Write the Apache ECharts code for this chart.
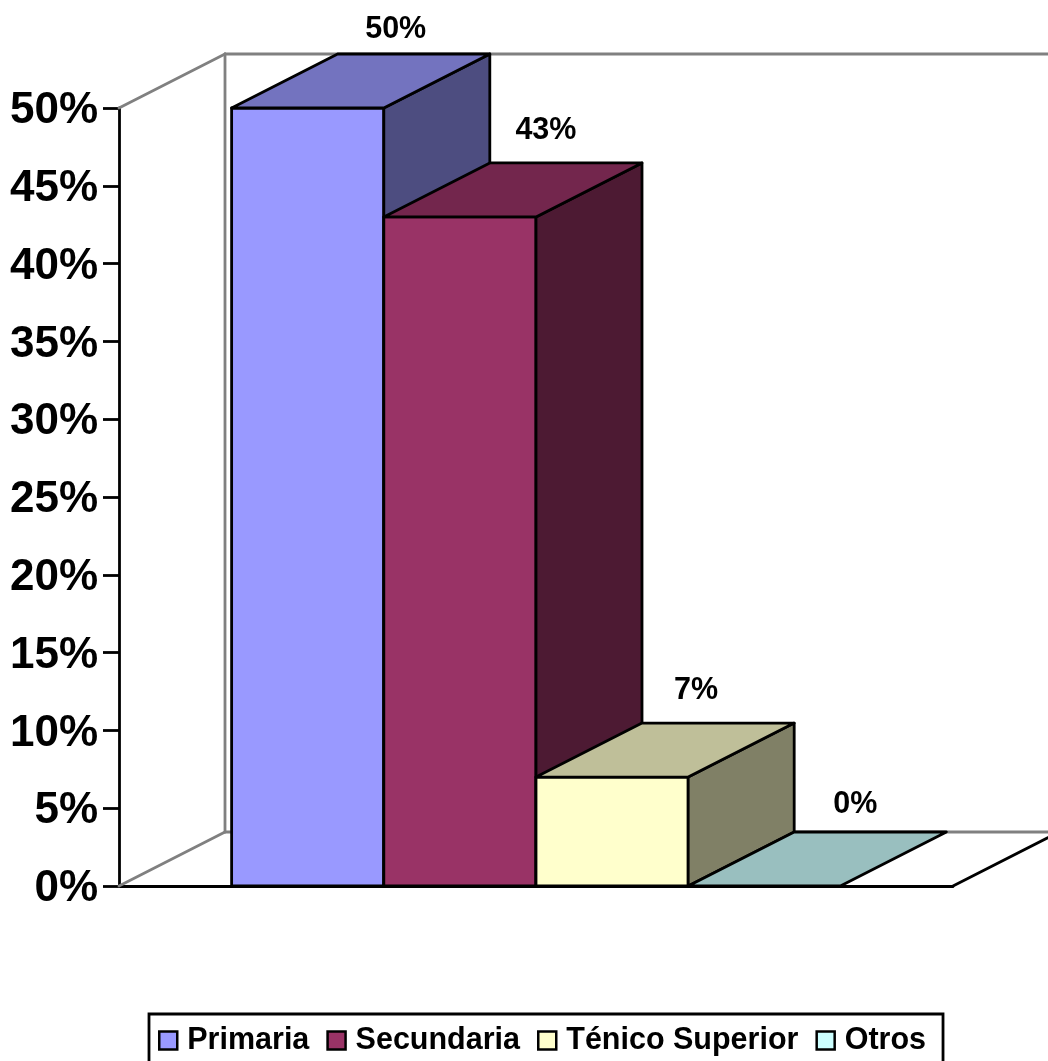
<!DOCTYPE html>
<html>
<head>
<meta charset="utf-8">
<style>
  html, body { margin: 0; padding: 0; background: #fff; overflow: hidden; }
  #chart { width: 1048px; height: 1061px; }
</style>
<script src="https://cdn.jsdelivr.net/npm/echarts@6/dist/echarts.min.js"></script>
</head>
<body>
<div id="chart"></div>
<script>
const categories = ['Primaria', 'Secundaria', 'Ténico Superior', 'Otros'];
const values = [50, 43, 7, 0];
const tickMax = 50;
const tickStep = 5;

// Fill colours: front face, top face, side face.
const frontColors = ['#9999FF', '#993366', '#FFFFCC', '#CCFFFF'];
const topColors = ['#7373BF', '#73264D', '#BFBF99', '#99BFBF'];
const sideColors = ['#4D4D80', '#4D1A33', '#808066', '#668080'];

// Offset of each value label from the middle of its bar's front top edge.
const labelShift = [[88, -78], [86, -86], [84, -86], [91, -81]];

const FONT = '"Liberation Sans", Arial, sans-serif';
const DEPTH_X = 106;
const DEPTH_Y = -54;
const WALL = '#808080';

function face(points, fill) {
  return {
    type: 'polygon',
    shape: { points },
    style: { fill, stroke: '#000', lineWidth: 2.8, lineJoin: 'round' }
  };
}

function wallLine(a, b, stroke) {
  return {
    type: 'line',
    shape: { x1: a[0], y1: a[1], x2: b[0], y2: b[1] },
    style: { stroke, lineWidth: 2.8, lineCap: 'round' }
  };
}

// Box for one series: front, top and side faces pushed back by the chart depth.
function renderBar(index) {
  return function (params, api) {
    const base = api.coord([0, 0]);
    const head = api.coord([0, api.value(1)]);
    const band = api.size([1, 0])[0];
    const w = band / 5.48;
    const x0 = base[0] - 2 * w + index * w;
    const x1 = x0 + w;
    const yB = base[1];
    const yT = head[1];
    const shift = labelShift[index];
    const children = [];
    if (yB - yT > 0) {
      children.push(face([[x0, yB], [x1, yB], [x1, yT], [x0, yT]], frontColors[index]));
      children.push(face([[x1, yB], [x1 + DEPTH_X, yB + DEPTH_Y], [x1 + DEPTH_X, yT + DEPTH_Y], [x1, yT]], sideColors[index]));
    }
    children.push(face([[x0, yT], [x1, yT], [x1 + DEPTH_X, yT + DEPTH_Y], [x0 + DEPTH_X, yT + DEPTH_Y]], topColors[index]));
    children.push({
      type: 'text',
      style: {
        x: (x0 + x1) / 2 + shift[0],
        y: yT + shift[1],
        text: values[index] + '%',
        font: 'bold 30.5px ' + FONT,
        fill: '#000',
        align: 'center',
        verticalAlign: 'middle'
      }
    });
    return { type: 'group', children };
  };
}

// Back wall, left wall and floor outline.
function renderWalls(params, api) {
  const bottom = api.coord([0, 0]);
  const top = api.coord([0, tickMax]);
  const left = params.coordSys.x;
  const right = left + params.coordSys.width;
  const yB = bottom[1];
  const yT = top[1];
  const back = left + DEPTH_X;
  const far = right + DEPTH_X;
  return {
    type: 'group',
    children: [
      wallLine([left, yT], [back, yT + DEPTH_Y], WALL),
      wallLine([left, yB], [back, yB + DEPTH_Y], WALL),
      wallLine([back, yT + DEPTH_Y], [back, yB + DEPTH_Y], WALL),
      wallLine([back, yT + DEPTH_Y], [far, yT + DEPTH_Y], WALL),
      wallLine([back, yB + DEPTH_Y], [far, yB + DEPTH_Y], WALL),
      wallLine([right, yB], [far, yB + DEPTH_Y], '#000')
    ]
  };
}

const barSeries = categories.map((name, i) => ({
  type: 'custom',
  name,
  coordinateSystem: 'cartesian2d',
  z: 3 + i,
  clip: false,
  renderItem: renderBar(i),
  itemStyle: { color: frontColors[i], borderColor: '#000', borderWidth: 2.5 },
  encode: { x: 0, y: 1 },
  data: [[0, values[i]]]
}));

const chart = echarts.init(document.getElementById('chart'), null, { renderer: 'canvas' });
chart.setOption({
  animation: false,
  backgroundColor: '#fff',
  grid: { left: 119, right: 95, top: 108, bottom: 175 },
  xAxis: {
    type: 'category',
    data: [''],
    axisLine: { lineStyle: { color: '#000', width: 2.8 } },
    axisTick: { show: false },
    axisLabel: { show: false }
  },
  yAxis: {
    type: 'value',
    min: 0,
    max: tickMax,
    interval: tickStep,
    splitLine: { show: false },
    axisLine: { show: true, lineStyle: { color: '#000', width: 2.8 } },
    axisTick: { show: true, length: 16, lineStyle: { color: '#000', width: 2.8 } },
    axisLabel: {
      margin: 21,
      formatter: '{tick|{value}%}',
      rich: {
        tick: {
          color: '#000',
          fontFamily: FONT,
          fontWeight: 'bold',
          fontSize: 44,
          padding: [6, 0, 0, 0]
        }
      }
    }
  },
  legend: {
    left: 149,
    top: 1014,
    orient: 'horizontal',
    data: categories,
    icon: 'rect',
    itemWidth: 18,
    itemHeight: 18,
    itemGap: 17,
    padding: [11, 17, 30, 9],
    borderColor: '#000',
    borderWidth: 2.8,
    selectedMode: false,
    itemStyle: { borderColor: '#000', borderWidth: 2.5 },
    textStyle: {
      color: '#000',
      fontFamily: FONT,
      fontWeight: 'bold',
      fontSize: 30.5,
      padding: [0, 0, 0, 5]
    }
  },
  series: [
    {
      type: 'custom',
      name: 'Paredes',
      coordinateSystem: 'cartesian2d',
      z: 1,
      clip: false,
      renderItem: renderWalls,
      encode: { x: 0, y: 1 },
      data: [[0, 0]]
    },
    ...barSeries
  ]
});
</script>
</body>
</html>
